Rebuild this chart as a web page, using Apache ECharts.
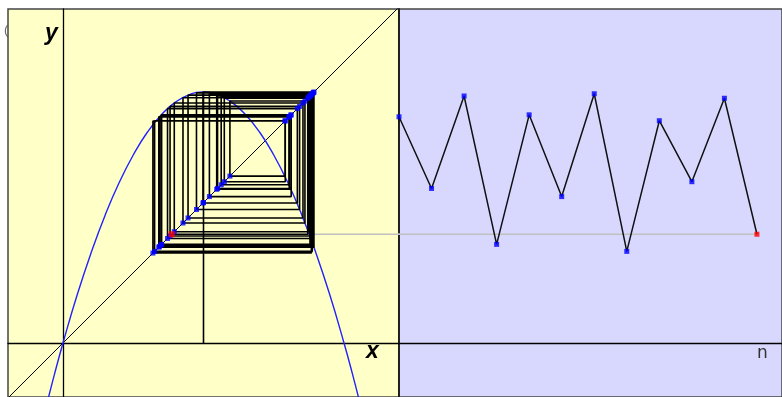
<!DOCTYPE html>
<html><head><meta charset="utf-8">
<script src="https://cdn.jsdelivr.net/npm/echarts@6/dist/echarts.min.js"></script>
<style>html,body{margin:0;padding:0;background:#fff}#c{width:782px;height:397px}</style>
</head><body><div id="c"></div>
<script>
// iterates x_n read from the cobweb (n = 0 .. 40); last 12 also
const iterates = [0.500, 0.892, 0.343, 0.804, 0.563, 0.878, 0.381, 0.842, 0.475, 0.890,
  0.349, 0.811, 0.547, 0.884, 0.320, 0.790, 0.594, 0.861, 0.427, 0.873,
  0.396, 0.854, 0.445, 0.882, 0.372, 0.834, 0.498, 0.893, 0.341,
  0.805, 0.550, 0.879, 0.351, 0.812, 0.521, 0.887, 0.326, 0.791, 0.574, 0.871, 0.387];
// map curve y = f(x)
const curveX = [-0.06, -0.03, 0, 0.05, 0.10, 0.15, 0.20, 0.25, 0.30, 0.35, 0.40, 0.45, 0.50,
  0.55, 0.60, 0.65, 0.70, 0.75, 0.80, 0.85, 0.90, 0.95, 1.00, 1.03, 1.06];
const curveY = [-0.227, -0.110, 0, 0.170, 0.321, 0.455, 0.571, 0.669, 0.750, 0.812, 0.857, 0.884, 0.893,
  0.884, 0.857, 0.812, 0.750, 0.669, 0.571, 0.455, 0.321, 0.170, 0, -0.110, -0.227];
const diagonalEnds = [-0.3, 1.3];
const shownSteps = 12;
const labelX = 'x', labelY = 'y', labelN = 'n';

const N = iterates.length - 1;
const last = iterates[N];
const cobweb = [[iterates[0], 0]];
for (let i = 0; i < N; i++) {
  cobweb.push([iterates[i], iterates[i + 1]]);
  cobweb.push([iterates[i + 1], iterates[i + 1]]);
}
const diagDots = iterates.slice(0, N).map(v => [v, v]);
const series = iterates.map((v, i) => [i, v]);

const yMin = -0.1922, yMax = 1.1886;
const hidden = {show: false};
const axisBase = {
  type: 'value', axisTick: hidden, axisLabel: hidden, splitLine: hidden
};
const chart = echarts.init(document.getElementById('c'), null, {renderer: 'canvas'});
chart.setOption({
  animation: false,
  grid: [
    {left: 8, top: 9, width: 391, height: 388, show: true, backgroundColor: '#FFFFC8', borderColor: '#444', borderWidth: 1.5},
    {left: 399, top: 9, width: 383, height: 388, show: true, backgroundColor: '#D8D8FF', borderColor: '#444', borderWidth: 1.5}
  ],
  xAxis: [
    Object.assign({}, axisBase, {gridIndex: 0, min: -0.1957, max: 1.1957,
      axisLine: {show: true, onZero: true, lineStyle: {color: '#000', width: 1.3}}}),
    Object.assign({}, axisBase, {gridIndex: 1, min: N - (shownSteps - 1), max: N + 0.77,
      axisLine: {show: true, onZero: true, lineStyle: {color: '#000', width: 1.3}}})
  ],
  yAxis: [
    Object.assign({}, axisBase, {gridIndex: 0, min: yMin, max: yMax,
      axisLine: {show: true, onZero: true, lineStyle: {color: '#000', width: 1.3}}}),
    Object.assign({}, axisBase, {gridIndex: 1, min: yMin, max: yMax,
      axisLine: {show: true, onZero: false, lineStyle: {color: '#111', width: 1.6}}})
  ],
  graphic: [
    {type: 'text', left: 4, top: 24, z: -10, style: {text: '(', font: '13px "Liberation Sans"', fill: '#666'}},
    {type: 'text', x: 45, y: 22, z: 100, style: {text: labelY, font: 'italic bold 23px "Liberation Sans"', fill: '#000', verticalAlign: 'top'}},
    {type: 'text', x: 366, y: 340, z: 100, style: {text: labelX, font: 'italic bold 23px "Liberation Sans"', fill: '#000', verticalAlign: 'top'}},
    {type: 'text', x: 757, y: 345, z: 100, style: {text: labelN, font: '17px "DejaVu Sans"', fill: '#333', verticalAlign: 'top'}}
  ],
  series: [
    {type: 'line', xAxisIndex: 0, yAxisIndex: 0, data: [[diagonalEnds[0], diagonalEnds[0]], [diagonalEnds[1], diagonalEnds[1]]],
      symbol: 'none', clip: true, lineStyle: {color: '#000', width: 1}, z: 2},
    {type: 'line', xAxisIndex: 0, yAxisIndex: 0, data: curveX.map((x, i) => [x, curveY[i]]),
      symbol: 'none', smooth: true, clip: true, lineStyle: {color: '#2222ff', width: 1.4}, z: 3},
    {type: 'line', xAxisIndex: 0, yAxisIndex: 0, data: [[iterates[N - 1], last], [1.3, last]],
      symbol: 'none', clip: true, lineStyle: {color: '#c0c0c0', width: 1.5}, z: 2},
    {type: 'line', xAxisIndex: 0, yAxisIndex: 0, data: cobweb,
      symbol: 'none', clip: true, lineStyle: {color: '#000', width: 1.6}, z: 4},
    {type: 'scatter', xAxisIndex: 0, yAxisIndex: 0, data: diagDots,
      symbol: 'rect', symbolSize: 5, itemStyle: {color: '#0000ff'}, z: 5},
    {type: 'scatter', xAxisIndex: 0, yAxisIndex: 0, data: [[last, last]],
      symbol: 'rect', symbolSize: 6, itemStyle: {color: '#ff0000'}, z: 6},
    {type: 'line', xAxisIndex: 1, yAxisIndex: 1, data: [[N - shownSteps, last], [N, last]],
      symbol: 'none', clip: true, lineStyle: {color: '#c0c0c0', width: 1.5}, z: 2},
    {type: 'line', xAxisIndex: 1, yAxisIndex: 1, data: series,
      symbol: 'none', clip: true, lineStyle: {color: '#111', width: 1.5}, z: 4},
    {type: 'scatter', xAxisIndex: 1, yAxisIndex: 1, data: series.slice(0, N),
      symbol: 'rect', symbolSize: 5, clip: true, itemStyle: {color: '#0000ff'}, z: 5},
    {type: 'scatter', xAxisIndex: 1, yAxisIndex: 1, data: [[N, last]],
      symbol: 'rect', symbolSize: 5, itemStyle: {color: '#ff0000'}, z: 6}
  ]
});
</script>
</body></html>
